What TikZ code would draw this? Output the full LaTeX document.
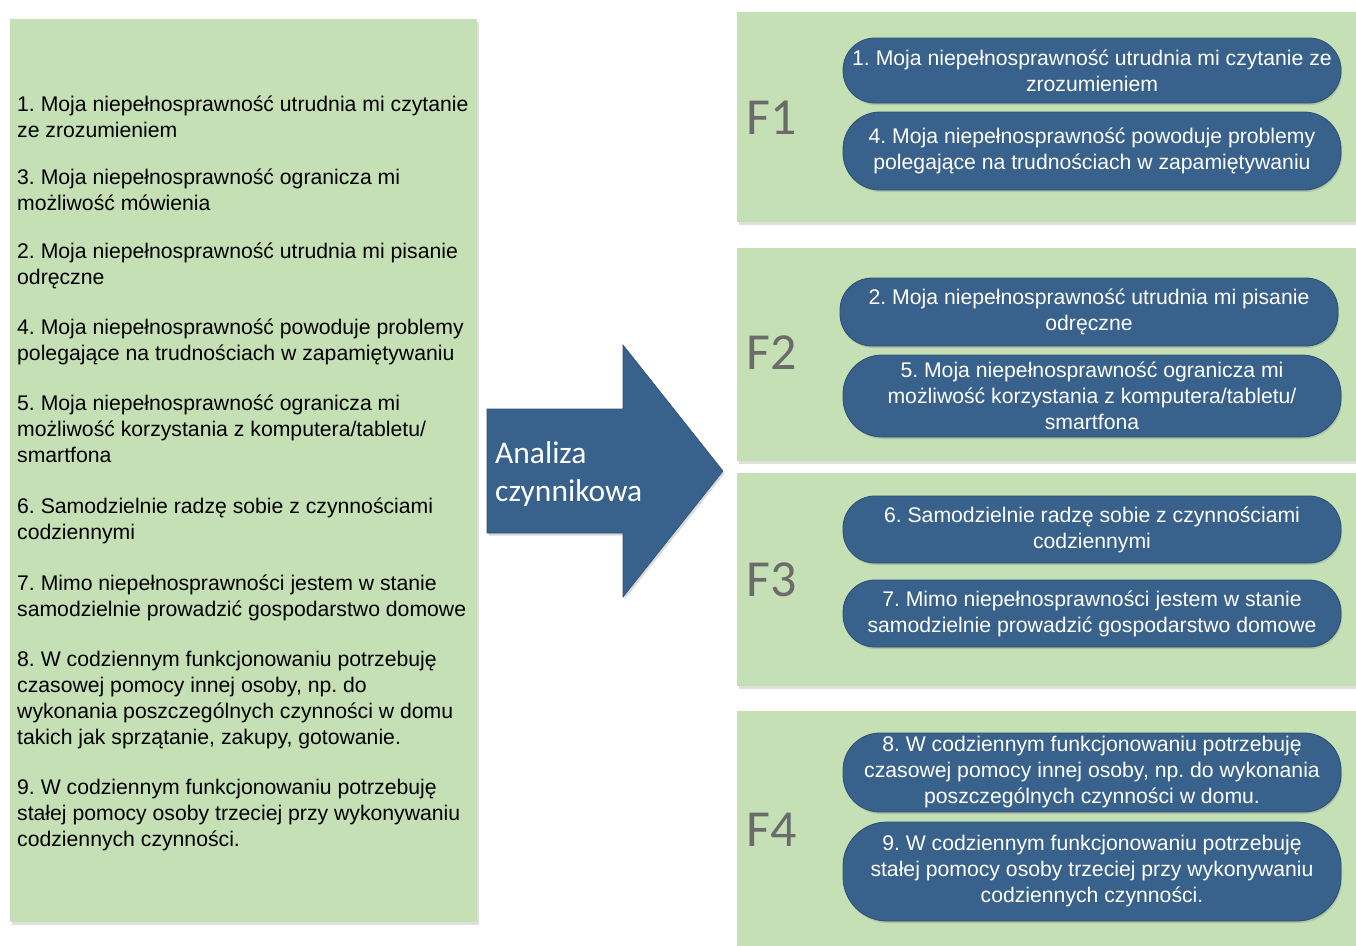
\documentclass[tikz,border=0pt]{standalone}
\usepackage{fontspec}
\setmainfont{Liberation Sans}
\newfontfamily\calibrifont{Carlito}
\usetikzlibrary{shadows}
\definecolor{boxgreen}{HTML}{C5E0B4}
\definecolor{pillblue}{HTML}{38618C}
\definecolor{pillborder}{HTML}{2C5075}
\definecolor{flabel}{HTML}{6B6B6B}
\frenchspacing
\begin{document}
\begin{tikzpicture}[x=1pt,y=-1pt,
  greenbox/.style={fill=boxgreen, draw=none, anchor=north west, inner sep=0pt,
    drop shadow={opacity=0.25, shadow xshift=1.5pt, shadow yshift=-2.5pt}},
  item/.style={anchor=base west, align=left, inner sep=0pt, font=\frenchspacing\fontsize{21.2}{26}\selectfont},
  pill/.style={fill=pillblue, draw=pillborder, line width=0.8pt, rounded corners=32pt,
    minimum width=498pt, text=white, align=center, inner sep=0pt,
    font=\frenchspacing\fontsize{21.2}{26}\selectfont,
    drop shadow={opacity=0.3, shadow xshift=1pt, shadow yshift=-2pt}},
  flab/.style={font=\calibrifont\fontsize{52}{52}\selectfont, text=flabel, inner sep=0pt},
  arrowshape/.style={fill=pillblue, draw=pillborder, line width=0.6pt,
    drop shadow={opacity=0.3, shadow xshift=1.5pt, shadow yshift=-2.5pt}},
  arrowtext/.style={anchor=base west, align=left, inner sep=0pt, text=white,
    font=\calibrifont\fontsize{31.5}{38}\selectfont}]
\useasboundingbox (0,0) rectangle (1356,945);

% left box (base anchor = baseline of last line)
\node[greenbox, minimum width=467pt, minimum height=903pt] (L) at (10,19) {};
\node[item] (i1) at (17,137) {1. Moja niepełnosprawność utrudnia mi czytanie\\ze zrozumieniem};
\node[item] (i3) at (17,210) {3. Moja niepełnosprawność ogranicza mi\\możliwość mówienia};
\node[item] (i2) at (17,284) {2. Moja niepełnosprawność utrudnia mi pisanie\\odręczne};
\node[item] (i4) at (17,360) {4. Moja niepełnosprawność powoduje problemy\\polegające na trudnościach w zapamiętywaniu};
\node[item] (i5) at (17,462) {5. Moja niepełnosprawność ogranicza mi\\możliwość korzystania z komputera/tabletu/\\smartfona};
\node[item] (i6) at (17,539) {6. Samodzielnie radzę sobie z czynnościami\\codziennymi};
\node[item] (i7) at (17,616) {7. Mimo niepełnosprawności jestem w stanie\\samodzielnie prowadzić gospodarstwo domowe};
\node[item] (i8) at (17,744) {8. W codziennym funkcjonowaniu potrzebuję\\czasowej pomocy innej osoby, np. do\\wykonania poszczególnych czynności w domu\\takich jak sprzątanie, zakupy, gotowanie.};
\node[item] (i9) at (17,846) {9. W codziennym funkcjonowaniu potrzebuję\\stałej pomocy osoby trzeciej przy wykonywaniu\\codziennych czynności.};

% arrow
\draw[arrowshape] (487,409) -- (623,409) -- (623,345) -- (723,471) -- (623,597) -- (623,533) -- (487,533) -- cycle;
\node[arrowtext] (A) at (495,501) {Analiza\\czynnikowa};

% right boxes
\node[greenbox, minimum width=625pt, minimum height=210pt] (B1) at (737,12) {};
\node[greenbox, minimum width=625pt, minimum height=213pt] (B2) at (737,248) {};
\node[greenbox, minimum width=625pt, minimum height=213pt] (B3) at (737,473) {};
\node[greenbox, minimum width=625pt, minimum height=245pt] (B4) at (737,711) {};

\node[flab] (F1) at (772,118) {F1};
\node[flab] (F2) at (772,353) {F2};
\node[flab] (F3) at (772,580) {F3};
\node[flab] (F4) at (772,830) {F4};

\node[pill, minimum height=65pt] (p1) at (1092,70.5) {1. Moja niepełnosprawność utrudnia mi czytanie ze\\zrozumieniem};
\node[pill, minimum height=78pt, rounded corners=37pt] (p4) at (1092,151) {4. Moja niepełnosprawność powoduje problemy\\polegające na trudnościach w zapamiętywaniu};
\node[pill, minimum height=68pt] (p2) at (1089,312) {2. Moja niepełnosprawność utrudnia mi pisanie\\odręczne};
\node[pill, minimum height=82pt, rounded corners=39pt] (p5) at (1092,396) {5. Moja niepełnosprawność ogranicza mi\\możliwość korzystania z komputera/tabletu/\\smartfona};
\node[pill, minimum height=67pt] (p6) at (1092,529.5) {6. Samodzielnie radzę sobie z czynnościami\\codziennymi};
\node[pill, minimum height=67pt] (p7) at (1092,613.5) {7. Mimo niepełnosprawności jestem w stanie\\samodzielnie prowadzić gospodarstwo domowe};
\node[pill, minimum height=79pt, rounded corners=37pt] (p8) at (1092,772.5) {8. W codziennym funkcjonowaniu potrzebuję\\czasowej pomocy innej osoby, np. do wykonania\\poszczególnych czynności w domu.};
\node[pill, minimum height=99pt, rounded corners=44pt] (p9) at (1092,871.5) {9. W codziennym funkcjonowaniu potrzebuję\\stałej pomocy osoby trzeciej przy wykonywaniu\\codziennych czynności.};
\end{tikzpicture}
\end{document}
